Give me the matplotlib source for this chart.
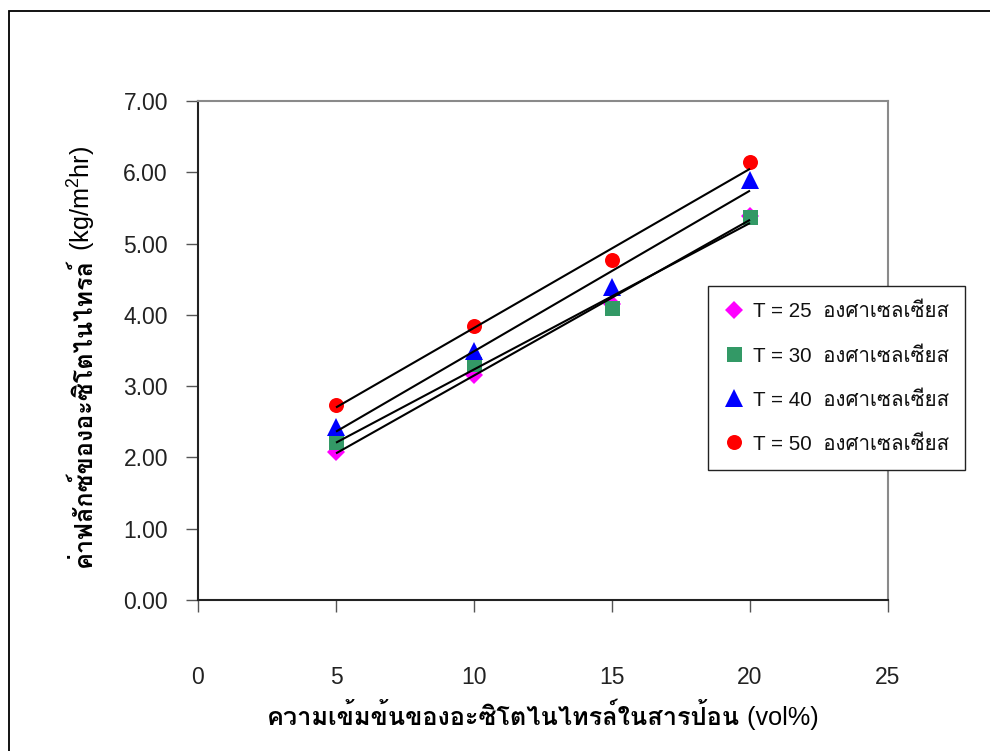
import matplotlib
matplotlib.use("Agg")
import matplotlib.pyplot as plt
from matplotlib import font_manager as fm
from matplotlib.patches import Rectangle
import numpy as np

# Acetonitrile concentration in feed (vol%)
conc = [5, 10, 15, 20]

# Acetonitrile flux (kg/m2 hr) at each feed temperature
flux_25 = [2.08, 3.16, 4.15, 5.39]
flux_30 = [2.21, 3.31, 4.10, 5.37]
flux_40 = [2.43, 3.50, 4.39, 5.89]
flux_50 = [2.74, 3.84, 4.77, 6.15]

series_labels = [
    "T = 25  องศาเซลเซียส",
    "T = 30  องศาเซลเซียส",
    "T = 40  องศาเซลเซียส",
    "T = 50  องศาเซลเซียส",
]
x_ticks = [0, 5, 10, 15, 20, 25]
y_ticks = [0, 1, 2, 3, 4, 5, 6, 7]

xlabel_th = "ความเข้มข้นของอะซิโตไนไทรล์ในสารป้อน"
xlabel_en = " (vol%)"
ylabel_th = "ค่าฟลักซ์ของอะซิโตไนไทรล์"
ylabel_en = " (kg/m$^{\\mathrm{2}}$hr)"

LATIN = "Liberation Sans"
THAI = "Loma"


def has_bold(name):
    for f in fm.fontManager.ttflist:
        if f.name == name and f.weight in (600, 700, 800, "bold", "semibold"):
            return True
    return False


THAI_BOLD = THAI if has_bold(THAI) else "IBM Plex Sans Thai Looped"

plt.rcParams["font.family"] = [LATIN, THAI, "DejaVu Sans"]
plt.rcParams["mathtext.fontset"] = "custom"
plt.rcParams["mathtext.rm"] = LATIN

W, H = 990, 751
fig = plt.figure(figsize=(W / 100, H / 100), dpi=100)
ax = fig.add_axes([198 / W, 1 - 600 / H, 690 / W, 499 / H])

styles = [
    (flux_25, "D", "#FF00FF", 8.7),
    (flux_30, "s", "#339966", 10.8),
    (flux_40, "^", "#0000FF", 13),
    (flux_50, "o", "#FF0000", 10.8),
]
for (vals, m, c, ms), lab in zip(styles, series_labels):
    ax.plot(conc, vals, linestyle="none", marker=m, color=c, markersize=ms,
            markeredgewidth=0, label=lab, zorder=3)
    k, b = np.polyfit(conc, vals, 1)
    xs = np.array([conc[0], conc[-1]])
    ax.plot(xs, k * xs + b, color="black", lw=1.5, zorder=4,
            solid_capstyle="butt")

ax.set_xlim(0, 25)
ax.set_ylim(0, 7)
ax.set_xticks(x_ticks)
ax.set_yticks(y_ticks)
ax.set_xticklabels([str(v) for v in x_ticks])
ax.set_yticklabels([f"{v:.2f}" for v in y_ticks])

for side in ("left", "bottom"):
    ax.spines[side].set_color("#222222")
    ax.spines[side].set_linewidth(1.5)
for side in ("top", "right"):
    ax.spines[side].set_color("#8a8a8a")
    ax.spines[side].set_linewidth(1.5)

ax.tick_params(axis="both", direction="out", length=8.6, width=1.0,
               color="#555555", labelsize=16.5, labelcolor="#222222")
ax.tick_params(axis="y", pad=13)
ax.tick_params(axis="x", pad=39)

leg = ax.legend(loc="upper left", bbox_to_anchor=(708 / W, 1 - 286 / H),
                bbox_transform=fig.transFigure, borderaxespad=0,
                fontsize=14.8, numpoints=1, frameon=True, fancybox=False,
                framealpha=1, edgecolor="#222222", borderpad=0.8,
                labelspacing=1.22, handlelength=0.95, handletextpad=0.42)
leg.get_frame().set_linewidth(1.0)
leg.set_zorder(10)
for t in leg.get_texts():
    t.set_color("#111111")

# Outer frame around the whole chart
fig.add_artist(Rectangle((8.5 / W, -0.05), 1.2, (H - 10.5) / H + 0.05,
                         transform=fig.transFigure, fill=False,
                         edgecolor="black", lw=1.3, clip_on=False))

# Axis titles: bold Thai followed by regular Latin units
fig.canvas.draw()
renderer = fig.canvas.get_renderer()
fs_lab = 18.2

# x title centred at (543, 716) px
tx1 = fig.text(0, 0, xlabel_th, family=[THAI_BOLD], fontweight="bold",
               fontsize=fs_lab, ha="left", va="baseline", transform=None)
tx2 = fig.text(0, 0, xlabel_en, family=[LATIN], fontsize=fs_lab,
               ha="left", va="baseline", transform=None)
w1 = tx1.get_window_extent(renderer).width
w2 = tx2.get_window_extent(renderer).width
x0 = 543 - (w1 + w2) / 2
base = H - 725
tx1.set_position((x0, base))
tx2.set_position((x0 + w1, base))

# y title centred at (83, 356) px, reading upwards
ty1 = fig.text(0, 0, ylabel_th, family=[THAI_BOLD], fontweight="bold",
               fontsize=fs_lab, rotation=90, rotation_mode="anchor",
               ha="left", va="baseline", transform=None)
ty2 = fig.text(0, 0, ylabel_en, family=[LATIN], fontsize=fs_lab,
               rotation=90, rotation_mode="anchor",
               ha="left", va="baseline", transform=None)
h1 = ty1.get_window_extent(renderer).height
h2 = ty2.get_window_extent(renderer).height
y0 = (H - 356) - (h1 + h2) / 2
xb = 91
ty1.set_position((xb, y0))
ty2.set_position((xb, y0 + h1))

fig.savefig("out.png", dpi=100)
